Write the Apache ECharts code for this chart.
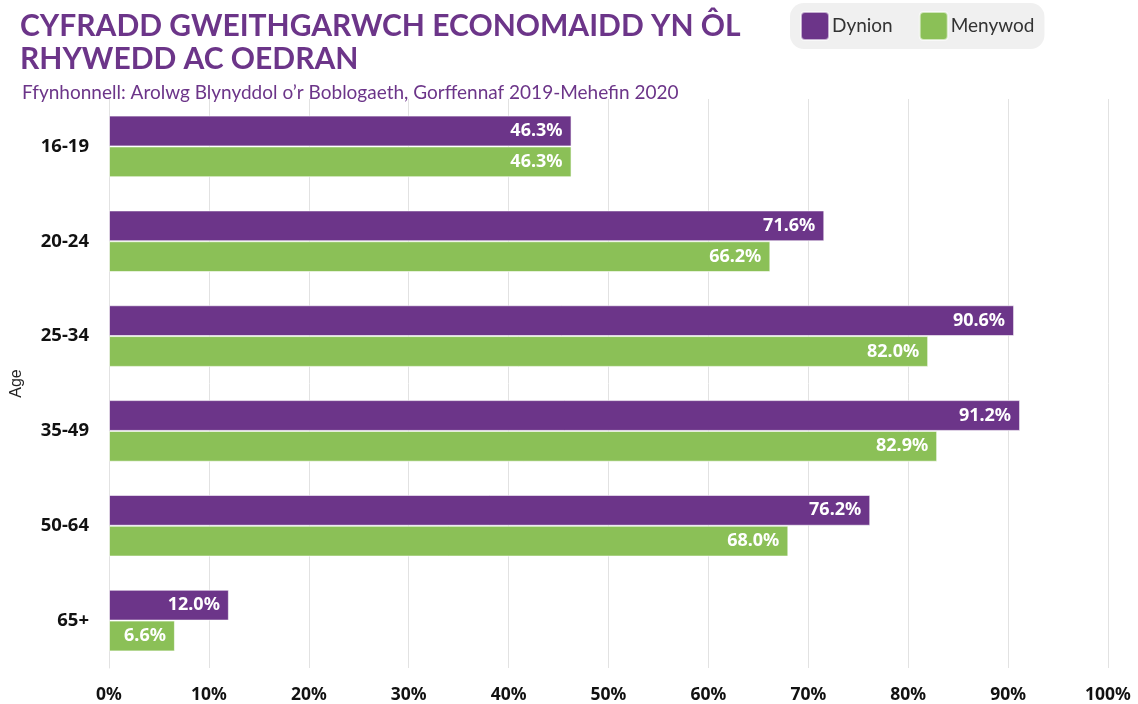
<!DOCTYPE html>
<html>
<head>
<meta charset="utf-8">
<script src="https://cdn.jsdelivr.net/npm/echarts@6/dist/echarts.min.js"></script>
<style>
    html, body { margin: 0; padding: 0; background: #fff; }
    #chart { width: 1138px; height: 704px; }
</style>
</head>
<body>
<div id="chart"></div>
<script>
// data
var ageGroups = ['16-19', '20-24', '25-34', '35-49', '50-64', '65+'];
var dynion = [46.3, 71.6, 90.6, 91.2, 76.2, 12.0];
var menywod = [46.3, 66.2, 82.0, 82.9, 68.0, 6.6];
var seriesNames = ['Dynion', 'Menywod'];

var purple = '#6C3589';
var green = '#8BC057';
var font = 'Lato, "Noto Sans", sans-serif';
var numFont = '"Noto Sans", Lato, sans-serif';

var chart = echarts.init(document.getElementById('chart'));

var makeSeries = function(name, values, colour){
    return {
        name: name,
        type: 'bar',
        data: values,
        barGap: '0%',
        barCategoryGap: '35%',
        itemStyle: {
            color: colour,
            borderColor: 'rgba(255,255,255,0.6)',
            borderWidth: 1
        },
        label: {
            show: true,
            position: 'insideRight',
            distance: 9,
            color: '#fff',
            fontFamily: numFont,
            fontWeight: 'bold',
            fontSize: 18,
            formatter: function(p){ return p.value.toFixed(1) + '%'; }
        }
    };
};

chart.setOption({
    animation: false,
    color: [purple, green],
    title: [{
        text: 'CYFRADD GWEITHGARWCH ECONOMAIDD YN ÔL\nRHYWEDD AC OEDRAN',
        left: 15,
        top: 5,
        textStyle: {
            color: purple,
            fontFamily: font,
            fontWeight: 'bold',
            fontSize: 30,
            lineHeight: 33
        }
    }, {
        text: 'Ffynhonnell: Arolwg Blynyddol o\u2019r Boblogaeth, Gorffennaf 2019-Mehefin 2020',
        left: 17,
        top: 78,
        textStyle: {
            color: purple,
            fontFamily: font,
            fontWeight: 'normal',
            fontSize: 19
        }
    }],
    legend: {
        data: seriesNames,
        left: 790,
        top: 3,
        padding: [8, 10, 8, 10],
        backgroundColor: '#F0F0F0',
        borderRadius: 14,
        itemWidth: 28,
        itemHeight: 28,
        itemGap: 26,
        icon: 'path://M4,0 H24 Q28,0 28,4 V24 Q28,28 24,28 H4 Q0,28 0,24 V4 Q0,0 4,0 Z',
        textStyle: {
            color: '#333',
            fontFamily: font,
            fontSize: 19,
            padding: [0, 0, 0, -2]
        }
    },
    grid: {
        left: 109,
        right: 30,
        top: 99,
        bottom: 36,
        containLabel: false
    },
    xAxis: {
        type: 'value',
        min: 0,
        max: 100,
        interval: 10,
        axisLine: { show: false },
        axisTick: { show: false },
        axisLabel: {
            margin: 18,
            color: '#111',
            fontFamily: numFont,
            fontWeight: 'bold',
            fontSize: 17.5,
            formatter: '{value}%'
        },
        splitLine: { lineStyle: { color: '#E2E2E2', width: 1 } }
    },
    yAxis: {
        type: 'category',
        data: ageGroups,
        inverse: true,
        name: 'Age',
        nameLocation: 'middle',
        nameGap: 84,
        nameRotate: 90,
        nameTextStyle: {
            color: '#222',
            fontFamily: '"Liberation Sans", Arial, sans-serif',
            fontSize: 16
        },
        axisLine: { lineStyle: { color: '#E2E2E2' } },
        axisTick: { show: false },
        axisLabel: {
            margin: 20,
            color: '#111',
            fontFamily: numFont,
            fontWeight: 'bold',
            fontSize: 18.5
        }
    },
    series: [
        makeSeries(seriesNames[0], dynion, purple),
        makeSeries(seriesNames[1], menywod, green)
    ]
});
</script>
</body>
</html>
